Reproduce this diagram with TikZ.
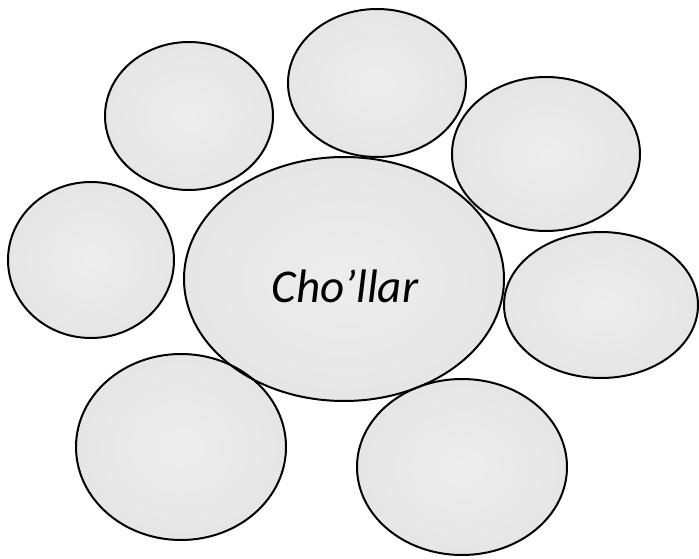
\documentclass[tikz,border=0pt]{standalone}
\usepackage{fontspec}
\setmainfont{Carlito}
\usetikzlibrary{shapes.geometric}
\pgfdeclareradialshading{blobshade}{\pgfpoint{0bp}{0bp}}{color(0bp)=(gray!14); color(26bp)=(gray!20); color(44bp)=(gray!34); color(50bp)=(gray!48); color(72bp)=(gray!48)}
\begin{document}
\begin{tikzpicture}[x=1pt,y=-1pt,
  blob/.style={ellipse, inner sep=0pt, shading=blobshade},
  rim/.style={draw=black, line width=2pt}]
\useasboundingbox (0,0) rectangle (699,559);
% fills
\node[blob, minimum width=168pt, minimum height=148pt] (tl) at (189,116) {};
\node[blob, minimum width=178pt, minimum height=148pt] (tm) at (377,83) {};
\node[blob, minimum width=188pt, minimum height=154pt] (tr) at (546,154) {};
\node[blob, minimum width=166pt, minimum height=156pt] (le) at (91,260) {};
\node[blob, minimum width=194pt, minimum height=146pt] (ri) at (601,305) {};
\node[blob, minimum width=210pt, minimum height=186pt] (bl) at (181,447) {};
\node[blob, minimum width=210pt, minimum height=176pt] (br) at (462,467) {};
\node[blob, minimum width=320pt, minimum height=244pt] (c) at (344,279) {};
% outlines
\foreach \n/\rx/\ry in {tl/84/74, tm/89/74, tr/94/77, le/83/78, ri/97/73, bl/105/93, br/105/88, c/160/122}
  \draw[rim] (\n.center) ellipse [x radius=\rx, y radius=\ry];
\node[anchor=base, inner sep=0pt, font=\fontsize{47}{50}\selectfont\itshape] (lbl) at (345,302) {Cho’llar};
\end{tikzpicture}
\end{document}
